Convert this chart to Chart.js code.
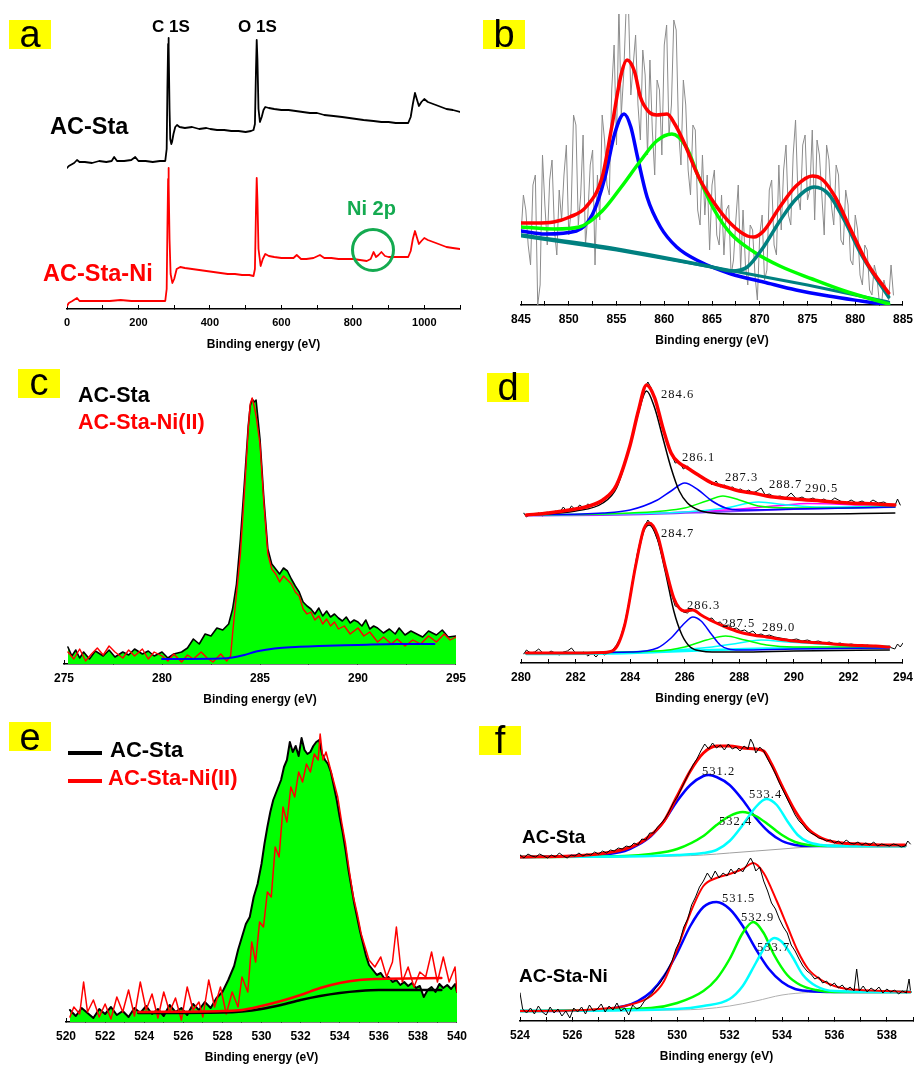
<!DOCTYPE html>
<html><head><meta charset="utf-8">
<script src="https://cdn.jsdelivr.net/npm/chart.js@4.4.1/dist/chart.umd.min.js"></script>
<style>
html,body{margin:0;padding:0;background:#fff;overflow:hidden;}
#fig{position:relative;width:924px;height:1070px;overflow:hidden;background:#fff;}
canvas{position:absolute;}
.t{position:absolute;white-space:nowrap;line-height:1;z-index:5;}
.box{position:absolute;background:#ffff00;width:42px;height:29px;z-index:4;}
.box span{position:absolute;left:0;width:42px;text-align:center;font-family:'Liberation Sans',Arial,sans-serif;font-size:38px;line-height:38px;color:#000;}
</style></head><body><div id="fig"></div>
<script>
// ---------------- DATA (binding energy eV, intensity a.u.) ----------------
// (a) survey spectra
const aStaSurvey = [[0,141],[5,143],[10,144],[20,146],[28,149],[35,147],[50,147],[70,146],[90,148],[110,147],[125,148],[132,152],[140,148],[160,148],[180,149],[191,152],[200,148],[220,148],[240,147],[260,148],[275,148],[279,160],[281,220],[283,265],[284,271],[285,262],[287,200],[289,170],[292,165],[294,167],[298,175],[303,182],[308,184],[315,182],[330,181],[350,182],[370,180],[390,181],[401,180],[420,179],[440,179],[460,178],[480,178],[500,177],[515,178],[522,179],[526,185],[529,240],[531,269],[533,250],[536,200],[540,187],[545,192],[550,199],[555,202],[565,201],[580,200],[600,199],[620,199],[640,198],[660,197],[680,196],[700,196],[720,194],[746,193],[770,192],[790,191],[810,190],[830,189],[858,188],[880,187],[900,187],[920,186],[940,186],[955,186],[962,192],[968,205],[974,216],[979,210],[985,203],[992,207],[1000,210],[1010,207],[1025,205],[1040,203],[1062,200],[1080,199],[1100,197]];
const aNiSurvey = [[0,3],[5,6],[15,8],[28,11],[35,8],[60,8],[90,8],[120,8],[150,9],[180,8],[210,8],[240,8],[260,8],[275,8],[279,20],[281,80],[283,130],[284,141],[285,125],[287,70],[290,35],[295,26],[300,30],[307,40],[317,42],[330,41],[350,40],[370,39],[390,38],[410,37],[430,36],[450,35],[470,35],[490,34],[510,34],[522,33],[526,40],[529,100],[531,131],[533,110],[536,60],[542,43],[548,50],[555,55],[565,53],[580,52],[600,51],[620,51],[634,51],[643,54],[655,50],[670,50],[690,51],[708,54],[720,51],[740,51],[760,50],[780,50],[801,50],[820,49],[839,48],[850,50],[858,57],[865,52],[872,54],[880,57],[890,53],[900,52],[913,52],[930,52],[955,52],[962,58],[968,70],[974,78],[979,72],[985,65],[992,68],[1000,71],[1010,69],[1025,67],[1040,65],[1062,62],[1080,61],[1100,60]];

// (b) Ni 2p
const bNiRaw = [[845,70],[845.25,110],[845.5,95],[845.75,60],[846,40],[846.25,120],[846.5,130],[846.75,0],[847,20],[847.25,150],[847.5,100],[847.75,60],[848,125],[848.25,145],[848.5,75],[848.75,50],[849,115],[849.25,85],[849.5,130],[849.75,160],[850,70],[850.25,95],[850.5,190],[850.75,180],[851,80],[851.25,110],[851.5,170],[851.75,60],[852,90],[852.25,140],[852.5,155],[852.75,40],[853,130],[853.25,85],[853.5,190],[853.75,165],[854,120],[854.25,110],[854.5,215],[854.75,260],[855,160],[855.25,300],[855.5,190],[855.75,230],[856,295],[856.25,300],[856.5,210],[856.75,240],[857,270],[857.25,200],[857.5,165],[857.75,255],[858,230],[858.25,150],[858.5,245],[858.75,175],[859,130],[859.25,225],[859.5,215],[859.75,150],[860,260],[860.25,280],[860.5,170],[860.75,200],[861,285],[861.25,275],[861.5,175],[861.75,140],[862,225],[862.25,200],[862.5,135],[862.75,110],[863,180],[863.25,175],[863.5,95],[863.75,80],[864,150],[864.25,90],[864.5,130],[864.75,55],[865,120],[865.25,135],[865.5,70],[865.75,60],[866,110],[866.25,50],[866.5,95],[866.75,100],[867,30],[867.25,45],[867.5,85],[867.75,120],[868,35],[868.25,95],[868.5,40],[868.75,20],[869,80],[869.25,75],[869.5,30],[869.75,5],[870,70],[870.25,90],[870.5,25],[870.75,35],[871,115],[871.25,125],[871.5,60],[871.75,50],[872,140],[872.25,75],[872.5,135],[872.75,160],[873,90],[873.25,80],[873.5,150],[873.75,185],[874,110],[874.25,95],[874.5,160],[874.75,170],[875,105],[875.25,115],[875.5,175],[875.75,85],[876,165],[876.25,150],[876.5,110],[876.75,70],[877,160],[877.25,145],[877.5,100],[877.75,80],[878,140],[878.25,130],[878.5,65],[878.75,60],[879,115],[879.25,100],[879.5,45],[879.75,40],[880,90],[880.25,75],[880.5,30],[880.75,20],[881,60],[881.25,55],[881.5,15],[881.75,10],[882,40],[882.25,30],[882.5,5],[882.75,0],[883,25],[883.25,15],[883.5,5],[883.75,40],[884,10]];
const bNiEnvelope = [[845,82],[846.5,82],[848.4,83],[850.1,88],[851.8,98],[853.5,128],[854.5,178],[855.5,231],[856.1,245],[856.9,233],[857.5,208],[858.4,193],[859.2,190],[860.3,191],[861.1,181],[862,164],[863.6,128],[865.3,101],[867,81],[868.7,69],[869.4,68],[870.4,74],[872.1,98],[873.8,119],[875.5,129],[876.5,126],[877.9,108],[879.6,74],[881.3,41],[883.5,12]];
const bNi2p32Main = [[845,74],[847.5,71],[850.8,74],[852.5,91],[853.8,128],[854.8,171],[855.8,191],[856.5,178],[857.2,148],[858.2,108],[859.6,78],[861.3,58],[863.6,44],[867,31],[870.4,23],[873.8,15],[877.2,9],[880.6,4],[883.5,0]];
const bNi2p32Sat = [[845,78],[848.5,76],[851.1,78],[853.5,94],[855.5,118],[857.5,144],[859.2,164],[860.8,171],[862.3,158],[863.6,128],[865.3,94],[867,71],[869.4,53],[872.1,39],[875.5,26],[878.9,14],[883.5,1]];
const bNi2p12 = [[845,70],[855,56],[865,38],[867,34],[868.7,38],[870.4,58],[872.1,84],[873.8,106],[875.7,118],[877.2,111],[878.9,84],[880.6,51],[883.5,8]];
const bNiBackground = [[845,69],[855,55],[865,38],[875,20],[883.5,3]];

// (c) C 1s overlay
const cStaC1s = [[275.2,17],[275.4,8],[275.6,14],[275.8,6],[276,12],[276.3,5],[276.6,13],[277,8],[277.3,14],[277.6,7],[278,12],[278.3,9],[278.6,15],[279,10],[279.3,13],[279.6,8],[280,12],[280.3,6],[280.6,10],[281,12],[281.3,16],[281.6,25],[281.9,20],[282.2,30],[282.5,28],[282.8,36],[283.1,34],[283.4,40],[283.6,55],[283.8,80],[284,125],[284.2,180],[284.4,238],[284.5,258],[284.6,265],[284.7,262],[284.8,264],[285,225],[285.2,165],[285.4,115],[285.6,100],[285.8,95],[286,90],[286.2,96],[286.4,93],[286.6,85],[286.8,78],[287,72],[287.2,62],[287.4,58],[287.6,55],[287.8,50],[288,56],[288.2,48],[288.4,53],[288.6,47],[288.8,50],[289,46],[289.2,43],[289.4,47],[289.6,41],[289.8,44],[290,42],[290.2,38],[290.4,44],[290.6,35],[290.8,38],[291,36],[291.3,31],[291.6,35],[291.9,30],[292.1,36],[292.4,29],[292.7,33],[293,30],[293.3,27],[293.6,33],[294,29],[294.3,34],[294.6,27],[295,28]];
const cNiC1s = [[275.2,12],[275.5,5],[275.8,15],[276.1,3],[276.4,10],[276.7,16],[277,9],[277.3,18],[277.6,12],[278,6],[278.3,14],[278.6,8],[279,15],[279.3,5],[279.6,12],[280,8],[280.3,3],[280.6,10],[281,2],[281.3,9],[281.6,5],[282,12],[282.3,6],[282.6,2],[283,10],[283.3,3],[283.5,8],[283.6,30],[283.8,70],[284,110],[284.2,170],[284.4,235],[284.5,260],[284.6,266],[284.7,258],[284.8,248],[285,220],[285.2,160],[285.4,110],[285.6,95],[285.8,90],[286,82],[286.2,88],[286.4,84],[286.6,80],[286.8,72],[287,68],[287.2,55],[287.4,50],[287.6,52],[287.8,44],[288,48],[288.2,40],[288.4,45],[288.6,38],[288.8,42],[289,35],[289.3,38],[289.6,30],[290,36],[290.3,28],[290.6,32],[291,22],[291.3,27],[291.7,20],[292,25],[292.4,18],[292.8,24],[293.2,20],[293.6,28],[294,22],[294.4,30],[294.7,24],[295,27]];
const cBackground = [[280,5],[283,5.5],[283.6,6.5],[284.2,9],[284.8,12.5],[285.4,14.5],[286,16],[287,17.2],[288,18],[290,19],[292,20],[293.9,20]];

// (d) C 1s fits: upper AC-Sta, lower AC-Sta-Ni
const dStaRaw = [[280.1,150],[280.2,146],[280.35,149],[280.5,148],[280.65,150],[280.8,147],[280.95,151],[281.1,149],[281.25,152],[281.4,150],[281.55,156],[281.7,151],[281.85,157],[282,153],[282.15,158],[282.3,155],[282.45,159],[282.6,157],[282.75,160],[282.9,162],[283.05,165],[283.2,166],[283.35,170],[283.5,178],[283.65,186],[283.8,198],[283.95,212],[284.1,228],[284.25,244],[284.4,262],[284.55,276],[284.65,281],[284.75,276],[284.9,266],[285.05,250],[285.2,236],[285.35,222],[285.5,210],[285.65,200],[285.8,201],[285.95,194],[286.1,197],[286.25,192],[286.4,190],[286.55,187],[286.7,185],[286.85,183],[287,178],[287.15,182],[287.3,176],[287.45,178],[287.6,175],[287.75,176],[287.9,173],[288.05,174],[288.2,171],[288.35,173],[288.5,170],[288.65,172],[288.8,175],[288.95,168],[289.1,169],[289.3,166],[289.5,167],[289.7,165],[289.9,170],[290.1,164],[290.3,166],[290.5,163],[290.7,165],[290.9,162],[291.1,164],[291.3,161],[291.5,165],[291.7,162],[291.9,160],[292.1,163],[292.3,160],[292.5,162],[292.7,159],[292.9,163],[293.1,160],[293.3,161],[293.5,158],[293.7,157],[293.8,164],[293.9,158]];
const dStaEnvelope = [[280.2,148],[281,150],[282,154],[282.5,157],[283,163],[283.5,178],[284,218],[284.3,252],[284.6,278],[284.9,265],[285.2,235],[285.5,210],[285.8,200],[286.1,195],[286.5,188],[287,180],[287.5,176],[288,172],[288.5,170],[289,167],[290,164],[291,162],[292,160],[293,159],[293.7,158]];
const dStaP1 = [[280.2,148],[282,152],[283,160],[283.5,175],[284,218],[284.3,250],[284.6,272],[284.9,255],[285.2,225],[285.5,195],[285.8,172],[286.1,160],[286.5,153],[287,150],[288,149],[290,149],[293.7,150]];
const dStaP2 = [[280.2,148],[283,150],[284,153],[285,163],[285.5,172],[286,180],[286.5,173],[287,162],[287.5,155],[288,153],[290,154],[293.7,156]];
const dStaP3 = [[280.2,148],[284,150],[286,155],[286.8,162],[287.4,167],[288,163],[288.7,157],[290,155],[293.7,156]];
const dStaP4 = [[280.2,148],[286,151],[287.5,155],[288.7,161],[289.8,158],[291,156],[293.7,157]];
const dStaP5 = [[280.2,148],[284,149],[286,151],[288,154],[289.5,157.5],[290.5,159.5],[291.5,159],[292.5,158],[293.7,158]];
const dStaBase = [[280.2,147.5],[284,148.5],[287,151],[290,154],[293.7,156]];
const dNiRaw = [[280.1,9],[280.2,13],[280.35,10],[280.5,11],[280.65,14],[280.8,10],[280.95,9],[281.1,12],[281.25,10],[281.4,8],[281.55,11],[281.7,12],[281.85,15],[282,10],[282.15,9],[282.3,11],[282.45,7],[282.6,10],[282.75,6],[282.9,11],[283.05,8],[283.2,10],[283.35,13],[283.5,18],[283.65,26],[283.8,40],[283.95,60],[284.1,84],[284.25,108],[284.4,126],[284.55,138],[284.65,143],[284.75,139],[284.9,131],[285.05,120],[285.2,104],[285.35,88],[285.5,70],[285.65,57],[285.8,55],[285.95,51],[286.1,50],[286.25,54],[286.4,52],[286.55,49],[286.7,46],[286.85,44],[287,45],[287.15,40],[287.3,41],[287.45,37],[287.6,38],[287.75,34],[287.9,35],[288.05,32],[288.2,33],[288.35,30],[288.5,32],[288.65,28],[288.8,29],[288.95,27],[289.1,28],[289.3,26],[289.5,25],[289.7,24],[289.9,23],[290.1,24],[290.3,22],[290.5,23],[290.7,21],[290.9,22],[291.1,20],[291.3,21],[291.5,19],[291.7,20],[291.9,18],[292.1,19],[292.3,18],[292.5,17],[292.7,18],[292.9,16],[293.1,17],[293.3,15],[293.5,16],[293.7,14],[293.8,19],[293.9,16],[294,20]];
const dNiEnvelope = [[280.2,10],[282,10],[283,10.5],[283.4,13],[283.8,38],[284.2,97],[284.5,134],[284.7,140],[285,128],[285.3,95],[285.6,65],[285.8,55],[286,52],[286.3,53],[286.6,48],[287,42],[287.5,36],[288,31],[288.5,28],[289,26],[290,22],[291,20],[292,18],[293,17],[293.5,16]];
const dNiP1 = [[280.2,10],[283,10],[283.4,13],[283.8,38],[284.2,97],[284.5,132],[284.7,138],[285,124],[285.3,90],[285.6,52],[285.9,28],[286.2,16],[286.6,12],[287,11],[288,11],[290,12],[293.5,13]];
const dNiP2 = [[280.2,10],[284,11],[285,15],[285.5,25],[286,40],[286.3,46],[286.6,42],[287,28],[287.3,18],[287.6,14],[288,13],[290,14],[293.5,15]];
const dNiP3 = [[280.2,10],[285,12],[286,16],[286.8,23],[287.5,27],[288.2,23],[289,18],[290,16],[291,16],[293.5,16]];
const dNiP4 = [[280.2,10],[285,12],[287,16],[288,20],[288.8,23],[289.8,21],[291,19],[293.5,17]];
const dNiBase = [[280.2,9],[283,9.5],[285,11],[287,13],[289,14.5],[293.5,15.5]];

// (e) O 1s overlay
const eStaO1s = [[520.2,12],[520.5,6],[520.8,14],[521.1,9],[521.4,4],[521.7,13],[522,8],[522.3,15],[522.6,7],[522.9,11],[523.2,5],[523.5,14],[523.8,9],[524.1,16],[524.4,8],[524.7,13],[525,6],[525.3,17],[525.6,10],[525.9,14],[526.2,7],[526.5,18],[526.8,12],[527.1,20],[527.4,14],[527.7,24],[528,30],[528.3,42],[528.6,56],[528.8,72],[529,85],[529.2,98],[529.4,105],[529.6,125],[529.8,138],[530,158],[530.15,178],[530.3,195],[530.45,210],[530.6,222],[530.8,232],[531,242],[531.15,255],[531.3,262],[531.45,280],[531.6,270],[531.75,276],[531.9,266],[532.05,284],[532.2,272],[532.35,268],[532.5,270],[532.65,276],[532.8,280],[532.95,282],[533.1,268],[533.25,262],[533.4,258],[533.55,250],[533.7,236],[533.85,222],[534,205],[534.15,190],[534.3,172],[534.45,152],[534.6,135],[534.75,118],[534.9,104],[535.05,90],[535.2,78],[535.35,66],[535.5,57],[535.7,52],[535.9,47],[536.1,49],[536.3,43],[536.5,45],[536.7,40],[536.9,42],[537.1,37],[537.3,40],[537.5,36],[537.7,39],[537.9,34],[538.1,36],[538.3,25],[538.5,32],[538.7,35],[538.9,30],[539.1,38],[539.3,34],[539.5,37],[539.7,33],[539.9,38],[540,30]];
const eNiO1s = [[520.2,5],[520.4,15],[520.7,8],[520.9,40],[521.1,10],[521.4,22],[521.7,5],[522,18],[522.3,3],[522.6,25],[522.9,10],[523.2,32],[523.5,6],[523.8,40],[524.1,12],[524.4,28],[524.7,4],[525,30],[525.3,10],[525.6,24],[525.9,2],[526.2,35],[526.5,12],[526.8,20],[527,5],[527.3,42],[527.6,15],[527.9,35],[528.2,8],[528.5,30],[528.8,15],[529,45],[529.3,30],[529.5,80],[529.7,60],[529.9,100],[530.1,95],[530.3,130],[530.5,125],[530.7,175],[530.9,165],[531.1,215],[531.3,200],[531.5,235],[531.7,225],[531.9,250],[532.1,240],[532.3,258],[532.5,250],[532.7,268],[532.9,262],[533,288],[533.15,262],[533.3,270],[533.5,255],[533.7,240],[533.9,225],[534.1,200],[534.3,178],[534.5,150],[534.7,125],[534.9,108],[535.1,88],[535.3,75],[535.5,62],[535.8,55],[536.1,65],[536.4,45],[536.7,60],[536.9,95],[537.2,40],[537.5,55],[537.8,35],[538.1,50],[538.4,45],[538.7,70],[539,40],[539.3,65],[539.6,40],[539.9,55],[540,30]];
const eStaBackground = [[523.7,9],[528,9.5],[529,10.5],[530,13],[531,17],[532,22],[533,26],[534,29],[535,31],[536,32],[539.2,32]];
const eNiBackground = [[523.7,10],[528,11],[529,12],[530,16],[531,21],[532,27],[533,34],[534,39],[535,42],[536,43],[539.2,44]];

// (f) O 1s fits: upper AC-Sta, lower AC-Sta-Ni
const fStaRaw = [[524,166],[524.15,163],[524.3,167],[524.45,165],[524.6,164],[524.75,167],[524.9,165],[525.05,163],[525.2,166],[525.35,164],[525.5,168],[525.65,165],[525.8,163],[525.95,166],[526.1,165],[526.25,168],[526.4,165],[526.55,167],[526.7,166],[526.85,169],[527,167],[527.15,170],[527.3,168],[527.45,171],[527.6,170],[527.75,173],[527.9,172],[528.05,175],[528.2,174],[528.35,178],[528.5,176],[528.65,182],[528.8,181],[528.95,188],[529.1,188],[529.25,194],[529.4,198],[529.55,203],[529.7,210],[529.85,218],[530,224],[530.15,232],[530.3,240],[530.45,248],[530.6,256],[530.75,262],[530.9,270],[531.05,277],[531.2,272],[531.35,278],[531.5,273],[531.65,276],[531.8,271],[531.95,277],[532.1,272],[532.25,274],[532.4,270],[532.55,275],[532.7,272],[532.8,282],[532.9,277],[533,268],[533.15,274],[533.3,270],[533.45,262],[533.6,255],[533.75,247],[533.9,238],[534.05,230],[534.2,222],[534.35,214],[534.5,206],[534.65,200],[534.8,196],[534.95,191],[535.1,188],[535.25,186],[535.4,183],[535.55,182],[535.7,180],[535.85,181],[536,178],[536.15,180],[536.3,177],[536.45,181],[536.6,178],[536.75,177],[536.9,179],[537.05,176],[537.2,178],[537.35,176],[537.5,179],[537.65,175],[537.8,177],[537.95,176],[538.1,175],[538.25,177],[538.4,176],[538.55,174],[538.7,175],[538.8,180],[538.9,177]];
const fStaEnvelope = [[524,164],[526,165],[527,167],[528,172],[528.5,177],[529,186],[529.5,200],[530,225],[530.5,250],[531,268],[531.5,275],[532,275],[532.5,273],[533,272],[533.3,270],[533.6,257],[534,235],[534.5,210],[535,192],[535.5,183],[536,179],[536.5,177.5],[537,177],[538,176],[538.7,176]];
const fStaP1 = [[524,164],[526,165],[527,166],[528,170],[528.5,176],[529,185],[529.5,200],[530,220],[530.5,236],[531,245],[531.2,246],[531.5,244],[532,236],[532.5,221],[533,203],[533.5,189],[534,180],[534.5,176],[535,175],[536,175],[538.7,175]];
const fStaP2 = [[524,164],[528,165],[529,167],[530,172],[531,185],[531.5,196],[532,205],[532.5,209],[533,205],[533.5,196],[534,186],[534.5,179],[535,176],[536,175],[538.7,175]];
const fStaP3 = [[524,164],[529,165],[530,166],[531,168],[531.5,171],[532,180],[532.5,196],[533,214],[533.4,222],[533.8,216],[534.2,200],[534.6,186],[535,179],[535.5,176],[536,175],[538.7,175]];
const fStaBase = [[524,164],[530,165],[531,166],[532,168],[533,170],[534,172],[535,174],[536,175],[538.7,175]];
const fNiRaw = [[524,28],[524.1,12],[524.25,8],[524.4,13],[524.55,7],[524.7,15],[524.85,9],[525,6],[525.15,14],[525.3,8],[525.45,12],[525.6,5],[525.75,10],[525.9,3],[526.05,13],[526.2,9],[526.35,14],[526.5,7],[526.65,16],[526.8,10],[526.95,12],[527.1,17],[527.25,9],[527.4,15],[527.55,11],[527.7,18],[527.85,10],[528,13],[528.15,6],[528.3,16],[528.45,12],[528.6,14],[528.75,20],[528.9,24],[529.05,28],[529.2,34],[529.35,38],[529.5,45],[529.65,52],[529.8,60],[529.95,72],[530.1,80],[530.25,94],[530.4,102],[530.55,116],[530.7,124],[530.85,134],[531,140],[531.15,148],[531.3,142],[531.45,150],[531.6,143],[531.75,148],[531.9,145],[532.05,152],[532.2,147],[532.35,153],[532.5,149],[532.65,156],[532.8,163],[532.9,158],[533,150],[533.15,154],[533.3,140],[533.45,130],[533.6,118],[533.75,112],[533.9,102],[534.05,94],[534.2,88],[534.35,76],[534.5,70],[534.65,62],[534.8,55],[534.95,50],[535.1,47],[535.25,42],[535.4,44],[535.55,38],[535.7,40],[535.85,35],[536,38],[536.15,33],[536.3,36],[536.45,31],[536.6,34],[536.75,30],[536.85,52],[536.95,30],[537.1,35],[537.25,29],[537.4,33],[537.55,30],[537.7,34],[537.85,28],[538,32],[538.15,29],[538.3,31],[538.45,27],[538.6,30],[538.75,28],[538.85,42],[538.9,31]];
const fNiEnvelope = [[524,10],[526,10.5],[527,12],[528,15],[529,25],[529.5,40],[530,72],[530.5,108],[531,135],[531.5,143],[532,147],[532.5,152],[532.9,158],[533.3,148],[533.8,120],[534.2,95],[534.6,70],[535,52],[535.5,41],[536,35],[536.5,32],[537,31],[538,30],[538.9,29]];
const fNiP1 = [[524,10],[527,11],[528,15],[528.5,20],[529,29],[529.5,45],[530,68],[530.5,95],[531,114],[531.5,119],[532,112],[532.5,95],[533,72],[533.5,52],[534,39],[534.5,32],[535,30],[536,29],[538.9,29]];
const fNiP2 = [[524,10],[529,13],[530,18],[531,30],[531.5,42],[532,62],[532.5,88],[532.9,99],[533.3,88],[533.7,66],[534.2,46],[534.7,36],[535.3,31],[536,29],[538.9,29]];
const fNiP3 = [[524,10],[530,12],[531,15],[532,22],[532.5,35],[533,58],[533.4,76],[533.7,83],[534,79],[534.4,64],[534.8,46],[535.3,35],[536,30],[538.9,29]];
const fNiBase = [[524,10],[530,11],[531,12],[532,15],[533,20],[534,26],[535,28.5],[536,29],[538.9,29]];

// ---------------- TEXT ----------------
const axisTitle = 'Binding energy (eV)';
const panelLetters = ['a','b','c','d','e','f'];

// ---------------- RENDERING ----------------
const FONT = "'Liberation Sans', Arial, Helvetica, sans-serif";
Chart.defaults.font.family = FONT;
Chart.defaults.color = '#000';
const fig = document.getElementById('fig');

function line(points, color, width, extra) {
  return Object.assign({
    data: points.map(p => ({x: p[0], y: p[1]})),
    borderColor: color, backgroundColor: color, borderWidth: width,
    pointRadius: 0, fill: false, tension: 0, borderJoinStyle: 'round', borderCapStyle: 'round'
  }, extra || {});
}
const smooth = {cubicInterpolationMode: 'monotone'};

function panel(g, x, datasets) {
  const padL = 20, padR = g.padR, padT = 10, scaleH = 50;
  const c = document.createElement('canvas');
  c.width = (g.x1 - g.x0) + padL + padR;
  c.height = (g.axis - g.top) + padT + scaleH;
  c.style.left = (g.x0 - padL) + 'px';
  c.style.top = (g.top - padT) + 'px';
  fig.appendChild(c);
  new Chart(c, {
    type: 'line',
    data: {datasets},
    options: {
      responsive: false, animation: false, devicePixelRatio: 1, events: [],
      layout: {padding: {left: padL, right: padR, top: padT, bottom: 0}},
      plugins: {legend: {display: false}, tooltip: {enabled: false}},
      scales: {
        x: {
          type: 'linear', min: x.min, max: x.max,
          border: {display: true, color: '#000', width: 1.5},
          grid: {drawOnChartArea: false, drawTicks: true, tickLength: -4, color: '#000', lineWidth: 1},
          ticks: {
            stepSize: x.step, autoSkip: false, maxRotation: 0, minRotation: 0, padding: 11,
            color: '#000', font: {size: x.font || 12, weight: 'bold'},
            callback: v => (Math.abs(v / x.label - Math.round(v / x.label)) < 1e-6 ? String(v) : '')
          },
          title: {display: true, text: axisTitle, color: '#000', font: {size: 12, weight: 'bold'}, padding: {top: 0, bottom: 7}},
          afterFit: s => { s.height = scaleH; }
        },
        y: {display: false, min: 0, max: g.axis - g.top}
      }
    }
  });
}

// (a)
panel({x0: 67, x1: 460, top: 29, axis: 309, padR: 20}, {min: 0, max: 1100, step: 100, label: 200, font: 11}, [
  line(aStaSurvey, '#000000', 1.8),
  line(aNiSurvey, '#ff0000', 1.8)
]);
// (b)
panel({x0: 520, x1: 913, top: 14, axis: 305, padR: 11}, {min: 845, max: 885, step: 2.5, label: 5}, [
  line(bNiEnvelope, '#ff0000', 3.5, Object.assign({order: 1}, smooth)),
  line(bNi2p12, '#008080', 3.5, Object.assign({order: 2}, smooth)),
  line(bNi2p32Sat, '#00ff00', 3.5, Object.assign({order: 3}, smooth)),
  line(bNi2p32Main, '#0000ff', 3.5, Object.assign({order: 4}, smooth)),
  line(bNiBackground, '#008080', 3, {order: 5}),
  line(bNiRaw, '#8c8c8c', 1, {order: 6})
]);
// (c)
panel({x0: 63, x1: 457, top: 390, axis: 664, padR: 20}, {min: 275, max: 295, step: 2.5, label: 5}, [
  line(cBackground, '#0000ff', 2, Object.assign({order: 1}, smooth)),
  line(cNiC1s, '#ff0000', 1.4, {order: 2}),
  line(cStaC1s, '#000000', 1.6, {order: 3, fill: 'origin', backgroundColor: '#00ff00'})
]);
// (d)
panel({x0: 520, x1: 913, top: 380, axis: 663, padR: 11}, {min: 280, max: 294, step: 1, label: 2}, [
  line(dStaEnvelope, '#ff0000', 3.5, Object.assign({order: 1}, smooth)),
  line(dStaP1, '#000000', 1.5, Object.assign({order: 2}, smooth)),
  line(dStaP2, '#0000ff', 1.5, Object.assign({order: 3}, smooth)),
  line(dStaP3, '#00ff00', 1.5, Object.assign({order: 4}, smooth)),
  line(dStaP4, '#00ffff', 1.5, Object.assign({order: 5}, smooth)),
  line(dStaP5, '#ff00ff', 1.5, Object.assign({order: 6}, smooth)),
  line(dStaBase, '#8040ff', 2, Object.assign({order: 7}, smooth)),
  line(dStaRaw, '#000000', 1, {order: 8}),
  line(dNiEnvelope, '#ff0000', 3, Object.assign({order: 1}, smooth)),
  line(dNiP1, '#000000', 1.5, Object.assign({order: 2}, smooth)),
  line(dNiP2, '#0000ff', 1.5, Object.assign({order: 3}, smooth)),
  line(dNiP3, '#00ff00', 1.5, Object.assign({order: 4}, smooth)),
  line(dNiP4, '#00ffff', 1.5, Object.assign({order: 5}, smooth)),
  line(dNiBase, '#00ffff', 2.5, Object.assign({order: 6}, smooth)),
  line(dNiRaw, '#000000', 1, {order: 8})
]);
// (e)
panel({x0: 65, x1: 458, top: 730, axis: 1022, padR: 20}, {min: 520, max: 540, step: 1, label: 2}, [
  line(eNiBackground, '#ff0000', 2.5, Object.assign({order: 1}, smooth)),
  line(eStaBackground, '#000000', 2.5, Object.assign({order: 2}, smooth)),
  line(eNiO1s, '#ff0000', 1.5, {order: 3}),
  line(eStaO1s, '#000000', 2, {order: 4, fill: 'origin', backgroundColor: '#00ff00'})
]);
// (f)
panel({x0: 519, x1: 913, top: 730, axis: 1021, padR: 11}, {min: 524, max: 539, step: 1, label: 2}, [
  line(fStaRaw, '#000000', 1, {order: 1}),
  line(fStaEnvelope, '#ff0000', 3, Object.assign({order: 2}, smooth)),
  line(fStaP3, '#00ffff', 2.5, Object.assign({order: 3}, smooth)),
  line(fStaP2, '#00ff00', 2.5, Object.assign({order: 4}, smooth)),
  line(fStaP1, '#0000ff', 2.5, Object.assign({order: 5}, smooth)),
  line(fStaBase, '#a0a0a0', 1, Object.assign({order: 6}, smooth)),
  line(fNiRaw, '#000000', 1, {order: 1}),
  line(fNiEnvelope, '#ff0000', 2, Object.assign({order: 2}, smooth)),
  line(fNiP3, '#00ffff', 2.5, Object.assign({order: 3}, smooth)),
  line(fNiP2, '#00ff00', 2.5, Object.assign({order: 4}, smooth)),
  line(fNiP1, '#0000ff', 2.5, Object.assign({order: 5}, smooth)),
  line(fNiBase, '#b0b0b0', 1, Object.assign({order: 6}, smooth))
]);

// ---------------- ANNOTATIONS (HTML text) ----------------
const SANS_BASE = 0.8465, SERIF_BASE = 0.8375;
function text(str, x, baseline, size, color, opts) {
  opts = opts || {};
  const d = document.createElement('div');
  d.className = 't';
  d.textContent = str;
  const serif = !!opts.serif;
  d.style.fontFamily = serif ? "'Liberation Serif','Times New Roman',serif" : FONT;
  d.style.fontSize = size + 'px';
  d.style.fontWeight = serif ? 'normal' : 'bold';
  d.style.color = color;
  if (opts.ls) d.style.letterSpacing = opts.ls + 'px';
  d.style.left = x + 'px';
  d.style.top = (baseline - (serif ? SERIF_BASE : SANS_BASE) * size) + 'px';
  fig.appendChild(d);
}
function letterBox(letter, left, top, baseline) {
  const b = document.createElement('div');
  b.className = 'box';
  b.style.left = left + 'px'; b.style.top = top + 'px';
  const s = document.createElement('span');
  s.textContent = letter;
  s.style.top = (baseline - 32.2 - top) + 'px';
  b.appendChild(s);
  fig.appendChild(b);
}
function rect(left, top, w, h, color) {
  const r = document.createElement('div');
  r.style.cssText = `position:absolute;left:${left}px;top:${top}px;width:${w}px;height:${h}px;background:${color};z-index:5`;
  fig.appendChild(r);
}

const boxPos = [[9,20,47],[483,20,47],[18,369,395],[487,373,400],[9,722,750],[479,726,753]];
panelLetters.forEach((l, i) => letterBox(l, boxPos[i][0], boxPos[i][1], boxPos[i][2]));

const GREEN = '#14aa50';
// (a)
text('C 1S', 152, 32.5, 17, '#000');
text('O 1S', 238, 32.5, 17, '#000');
text('AC-Sta', 50, 135, 23.5, '#000');
text('AC-Sta-Ni', 43, 282, 23.5, '#ff0000');
text('Ni 2p', 347, 215, 20, GREEN);
const circ = document.createElement('div');
circ.style.cssText = `position:absolute;left:351px;top:228px;width:44px;height:44px;box-sizing:border-box;border:3px solid ${GREEN};border-radius:50%;z-index:5`;
fig.appendChild(circ);
// (c)
text('AC-Sta', 78, 403, 21.5, '#000');
text('AC-Sta-Ni(II)', 78, 430, 21.5, '#ff0000');
// (d) peak positions
const dPeakLabels = [['284.6',661,398],['286.1',682,461],['287.3',725,481],['288.7',769,488],['290.5',805,492],['284.7',661,537],['286.3',687,609],['287.5',722,627],['289.0',762,631]];
dPeakLabels.forEach(p => text(p[0], p[1], p[2], 12.5, '#111', {serif: true, ls: 1}));
// (e) legend
rect(68, 751, 34, 3.5, '#000');
text('AC-Sta', 110, 758, 22, '#000');
rect(68, 779, 34, 3.5, '#ff0000');
text('AC-Sta-Ni(II)', 108, 786, 22, '#ff0000');
// (f)
const fPeakLabels = [['531.2',702,775],['533.4',749,798],['532.4',719,825],['531.5',722,902],['532.9',741,921],['533.7',757,951]];
fPeakLabels.forEach(p => text(p[0], p[1], p[2], 12.5, '#111', {serif: true, ls: 1}));
text('AC-Sta', 522, 843, 19, '#000');
text('AC-Sta-Ni', 519, 982, 19, '#000');
</script>
</body></html>
